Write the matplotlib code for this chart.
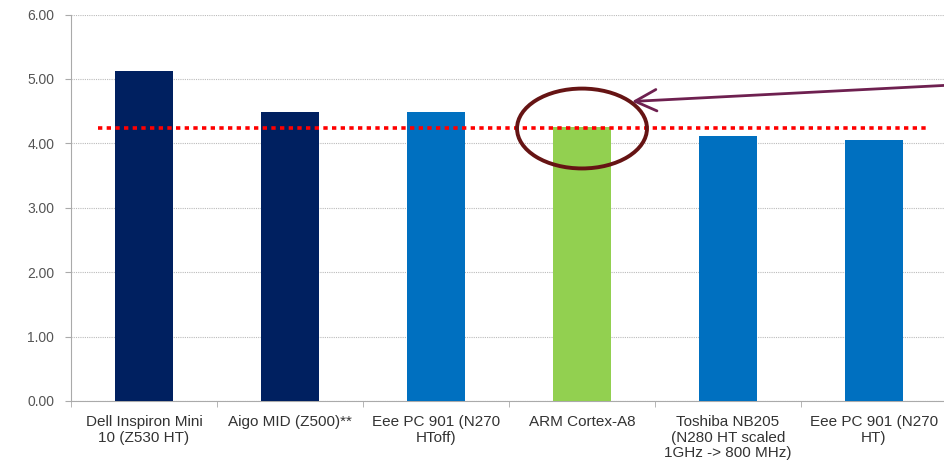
import matplotlib
matplotlib.use("Agg")
import matplotlib.pyplot as plt
from matplotlib.patches import Ellipse
import numpy as np

categories = ["Dell Inspiron Mini\n10 (Z530 HT)", "Aigo MID (Z500)**", "Eee PC 901 (N270\nHToff)",
              "ARM Cortex-A8", "Toshiba NB205\n(N280 HT scaled\n1GHz -> 800 MHz)", "Eee PC 901 (N270\nHT)"]
values = [5.12, 4.48, 4.48, 4.25, 4.12, 4.05]
bar_colors = ["#002060", "#002060", "#0070C0", "#92D050", "#0070C0", "#0070C0"]
yticks = [0, 1, 2, 3, 4, 5, 6]
ref_level = 4.24

plt.rcParams['font.family'] = ['Liberation Sans', 'DejaVu Sans']

fig = plt.figure(figsize=(9.45, 4.63), dpi=100)
ax = fig.add_axes([71/945, 62/463, 876/945, (401-14.5)/463])

x = np.arange(len(categories))
ax.bar(x, values, width=0.4, color=bar_colors, zorder=3)

ax.set_xlim(-0.5, len(categories) - 0.5)
ax.set_ylim(0, 6)
ax.set_yticks(yticks)
ax.set_yticklabels([f"{v:.2f}" for v in yticks], fontsize=10, color="#555555")
ax.yaxis.grid(True, color="#bbbbbb", linestyle=(0, (1, 1)), linewidth=0.8, zorder=0)

ax.set_xticks(x)
ax.set_xticklabels(categories, fontsize=11, color="#333333", linespacing=1.15)
ax.set_xticks(np.arange(len(categories) + 1) - 0.5, minor=True)
ax.tick_params(axis='x', which='major', length=0, pad=10)
ax.tick_params(axis='x', which='minor', length=4, color="#aaaaaa")
ax.tick_params(axis='y', length=4, color="#aaaaaa", pad=8)

for s in ["top", "right"]:
    ax.spines[s].set_visible(False)
for s in ["left", "bottom"]:
    ax.spines[s].set_color("#aaaaaa")
    ax.spines[s].set_linewidth(0.8)

# reference dotted line
ax.plot([-0.315, 5.363], [ref_level, ref_level], color="#FF0000", linewidth=2.6,
        linestyle=(0, (1.2, 1.2)), zorder=4, solid_capstyle='butt', dash_capstyle='butt')

# ellipse highlight
ell = Ellipse((3.0, 4.23), width=0.89, height=1.24, fill=False, edgecolor="#661414",
              linewidth=2.8, zorder=5)
ax.add_patch(ell)

# arrow
ax.annotate("", xy=(3.342, 4.65), xytext=(5.49, 4.90),
            arrowprops=dict(arrowstyle="->,head_length=0.7,head_width=0.35", color="#6E2050", lw=2.0,
                            mutation_scale=22, shrinkA=0, shrinkB=0), zorder=6, annotation_clip=False)

fig.savefig("out.png", dpi=100)
